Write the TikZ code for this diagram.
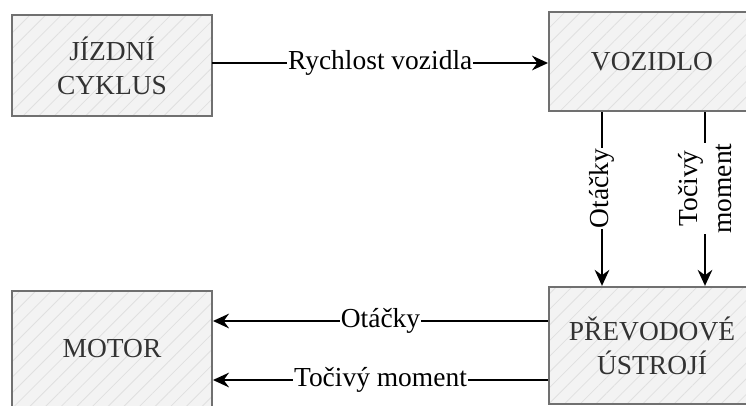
\documentclass[tikz,border=0pt]{standalone}
\usepackage{fontspec}
\setmainfont{Liberation Serif}
\usepackage{tikz}
\usetikzlibrary{arrows.meta,patterns.meta}
\definecolor{hopnen}{HTML}{F3F3F3}
\definecolor{hopsoc}{HTML}{E0E0E0}
\definecolor{hopvien}{HTML}{707070}
\definecolor{chuhop}{HTML}{333333}
\begin{document}
\begin{tikzpicture}[x=0.75pt,y=-0.75pt,
		font=\fontsize{20.6}{25.5}\selectfont,
		khoi/.style={draw=hopvien,line width=1.5pt,preaction={fill=hopnen},
			pattern={Lines[angle=45,distance=8.3pt,line width=0.6pt]},pattern color=hopsoc,
			text=chuhop,align=center,inner sep=0pt},
		muiten/.style={-{Stealth[length=12pt,width=11pt,inset=4pt]},line width=1.3pt},
		nhan/.style={fill=white,inner sep=0.5pt,text=black,align=center}]
			\useasboundingbox (0,0) rectangle (746,405);
			\node[khoi,minimum width=150pt,minimum height=75.75pt] (jizdni) at (112,65.5) {JÍZDNÍ\\CYKLUS};
			\node[khoi,minimum width=154.5pt,minimum height=74.25pt] (vozidlo) at (652,61.5) {VOZIDLO};
			\node[khoi,minimum width=150pt,minimum height=87pt] (motor) at (112,349) {MOTOR};
			\node[khoi,minimum width=154.5pt,minimum height=88pt] (prevod) at (652,345.5) {PŘEVODOVÉ\\ÚSTROJÍ};
			\draw[muiten] (jizdni.east |- 0,63) -- node[nhan]{Rychlost vozidla} (vozidlo.west |- 0,63);
			\draw[muiten] (vozidlo.south -| 602,0) -- node[nhan,rotate=90,pos=.44]{Otáčky} (prevod.north -| 602,0);
			\draw[muiten] (vozidlo.south -| 705,0) -- node[nhan,rotate=90,pos=.44]{Točivý\\moment} (prevod.north -| 705,0);
			\draw[muiten] (prevod.west |- 0,321) -- node[nhan]{Otáčky} (motor.east |- 0,321);
			\draw[muiten] (prevod.west |- 0,380) -- node[nhan]{Točivý moment} (motor.east |- 0,380);
		\end{tikzpicture}
\end{document}
